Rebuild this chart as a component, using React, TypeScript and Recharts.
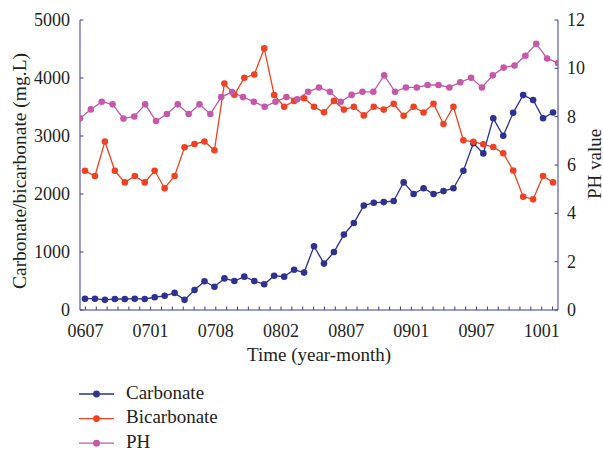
import React from 'react';
import { LineChart, Line, XAxis, YAxis, Legend } from 'recharts';

// ---- data ----
const tickLabels = ['0607', '0701', '0708', '0802', '0807', '0901', '0907', '1001'];
const carbonate = [195, 195, 175, 190, 190, 195, 190, 220, 245, 295, 175, 345, 495, 400, 545, 500, 575, 500, 445, 590, 575, 695, 645, 1100, 800, 1000, 1300, 1500, 1800, 1850, 1860, 1880, 2200, 2000, 2100, 2000, 2050, 2100, 2400, 2875, 2700, 3305, 3005, 3400, 3705, 3620, 3305, 3405];
const bicarbonate = [2400, 2310, 2905, 2400, 2200, 2310, 2200, 2400, 2100, 2310, 2805, 2860, 2905, 2755, 3905, 3710, 4005, 4060, 4510, 3707, 3505, 3605, 3652, 3505, 3408, 3605, 3455, 3505, 3355, 3505, 3455, 3555, 3350, 3505, 3405, 3555, 3207, 3505, 2925, 2902, 2857, 2810, 2702, 2405, 1953, 1908, 2310, 2200];
const ph = [7.93, 8.3, 8.62, 8.51, 7.92, 8.01, 8.51, 7.82, 8.11, 8.51, 8.11, 8.51, 8.11, 8.81, 9.02, 8.81, 8.62, 8.41, 8.62, 8.81, 8.72, 9.03, 9.21, 9.03, 8.62, 8.9, 9.03, 9.03, 9.71, 9.03, 9.21, 9.21, 9.31, 9.31, 9.21, 9.42, 9.61, 9.21, 9.71, 10.03, 10.12, 10.52, 11.02, 10.41, 10.22];
const leftTicks = [0, 1000, 2000, 3000, 4000, 5000];
const rightTicks = [0, 2, 4, 6, 8, 10, 12];
const monthsPerLabel = 6;

const ionData = carbonate.map((c, i) => ({ x: i, carbonate: c, bicarbonate: bicarbonate[i] }));
const phData = ph.map((v, i) => ({ x: i, ph: v }));
const monthTicks = Array.from({ length: ph.length - 1 }, (_, k) => k + 0.5);

const C_CARB = '#2E3192';
const C_BICARB = '#EF4123';
const C_PH = '#C558A8';
const AXIS = '#3a3a9c';
const FONT = '"Liberation Serif", "Times New Roman", serif';
const TEXT = '#231f20';

const series = [
  { name: 'Carbonate', color: C_CARB },
  { name: 'Bicarbonate', color: C_BICARB },
  { name: 'PH', color: C_PH },
];

const XTick = (props: any) => {
  const { x, y, index } = props;
  const label = index % monthsPerLabel === 0 ? tickLabels[index / monthsPerLabel] : '';
  return (
    <g>
      <line x1={x} x2={x} y1={y} y2={y - 3.5} stroke={AXIS} strokeWidth={1} />
      {label ? (
        <text x={x} y={y + 26.5} textAnchor="middle" fontSize={18} fontFamily={FONT} fill={TEXT}>
          {label}
        </text>
      ) : null}
    </g>
  );
};

const LeftTick = (props: any) => {
  const { x, y, payload } = props;
  return (
    <g>
      <line x1={x} x2={x + 3.5} y1={y} y2={y} stroke={AXIS} strokeWidth={1} />
      <text x={x - 10} y={y + 6} textAnchor="end" fontSize={18} fontFamily={FONT} fill={TEXT}>
        {payload.value}
      </text>
    </g>
  );
};

const RightTick = (props: any) => {
  const { x, y, payload } = props;
  return (
    <g>
      <line x1={x} x2={x - 3.5} y1={y} y2={y} stroke={AXIS} strokeWidth={1} />
      <text x={x + 9} y={y + 6} textAnchor="start" fontSize={18} fontFamily={FONT} fill={TEXT}>
        {payload.value}
      </text>
    </g>
  );
};

const LeftTitle = (props: any) => {
  const vb = props.viewBox;
  const cx = vb.x + 26;
  const cy = vb.y + vb.height / 2 + 6;
  return (
    <text transform={`translate(${cx},${cy}) rotate(-90)`} textAnchor="middle" fontSize={19.5} fontFamily={FONT} fill={TEXT}>
      Carbonate/bicarbonate (mg.L)
    </text>
  );
};

const RightTitle = (props: any) => {
  const vb = props.viewBox;
  const cx = vb.x + 42.5;
  const cy = vb.y + vb.height / 2 - 1;
  return (
    <text transform={`translate(${cx},${cy}) rotate(-90)`} textAnchor="middle" fontSize={19} fontFamily={FONT} fill={TEXT}>
      PH value
    </text>
  );
};

const XTitle = (props: any) => {
  const vb = props.viewBox;
  return (
    <text x={vb.x + vb.width / 2} y={vb.y + 51} textAnchor="middle" fontSize={19} fontFamily={FONT} fill={TEXT}>
      Time (year-month)
    </text>
  );
};

const renderLegend = () => (
  <svg width={200} height={70} style={{ display: 'block', overflow: 'visible' }}>
    {series.map((s, i) => {
      const cy = 13 + i * 24.6;
      return (
        <g key={s.name}>
          <line x1={9} x2={44} y1={cy} y2={cy} stroke={s.color} strokeWidth={1.3} />
          <circle cx={26.5} cy={cy} r={3.4} fill={s.color} />
          <text x={56} y={cy + 4.5} fontSize={19} fontFamily={FONT} fill={TEXT}>
            {s.name}
          </text>
        </g>
      );
    })}
  </svg>
);

export default function App() {
  return (
    <div style={{ position: 'absolute', left: 0, top: 0, width: 603, height: 451, background: '#fff' }}>
      <LineChart width={603} height={451} margin={{ top: 20, right: 0, bottom: 0, left: 0 }}>
        <XAxis
          xAxisId="ion"
          type="number"
          dataKey="x"
          domain={[-0.5, carbonate.length - 0.5]}
          hide
          height={0}
          allowDataOverflow
        />
        <XAxis
          xAxisId="month"
          type="number"
          dataKey="x"
          domain={[0, ph.length - 1]}
          ticks={monthTicks}
          interval={0}
          height={141}
          tickSize={0}
          tickMargin={0}
          tickLine={false}
          tick={<XTick />}
          axisLine={{ stroke: AXIS, strokeWidth: 1 }}
          label={<XTitle />}
          allowDataOverflow
        />
        <YAxis
          yAxisId="left"
          orientation="left"
          width={80}
          domain={[0, 5000]}
          ticks={leftTicks}
          interval={0}
          tickSize={0}
          tickMargin={0}
          tickLine={false}
          tick={<LeftTick />}
          axisLine={{ stroke: AXIS, strokeWidth: 1 }}
          label={<LeftTitle />}
        />
        <YAxis
          yAxisId="right"
          orientation="right"
          width={45}
          domain={[0, 12]}
          ticks={rightTicks}
          interval={0}
          tickSize={0}
          tickMargin={0}
          tickLine={false}
          tick={<RightTick />}
          axisLine={{ stroke: AXIS, strokeWidth: 1 }}
          label={<RightTitle />}
        />
        <Legend
          layout="horizontal"
          verticalAlign="middle"
          align="center"
          content={renderLegend}
          wrapperStyle={{ position: 'absolute', left: 70, top: 381, width: 200, height: 70, margin: 0 }}
        />
        <Line
          data={ionData}
          xAxisId="ion"
          yAxisId="left"
          dataKey="carbonate"
          name="Carbonate"
          stroke={C_CARB}
          strokeWidth={1.3}
          dot={{ r: 3.3, fill: C_CARB, stroke: C_CARB, strokeWidth: 0 }}
          activeDot={false}
          isAnimationActive={false}
        />
        <Line
          data={ionData}
          xAxisId="ion"
          yAxisId="left"
          dataKey="bicarbonate"
          name="Bicarbonate"
          stroke={C_BICARB}
          strokeWidth={1.3}
          dot={{ r: 3.3, fill: C_BICARB, stroke: C_BICARB, strokeWidth: 0 }}
          activeDot={false}
          isAnimationActive={false}
        />
        <Line
          data={phData}
          xAxisId="month"
          yAxisId="right"
          dataKey="ph"
          name="PH"
          stroke={C_PH}
          strokeWidth={1.3}
          dot={{ r: 3.3, fill: C_PH, stroke: C_PH, strokeWidth: 0 }}
          activeDot={false}
          isAnimationActive={false}
        />
      </LineChart>
    </div>
  );
}
